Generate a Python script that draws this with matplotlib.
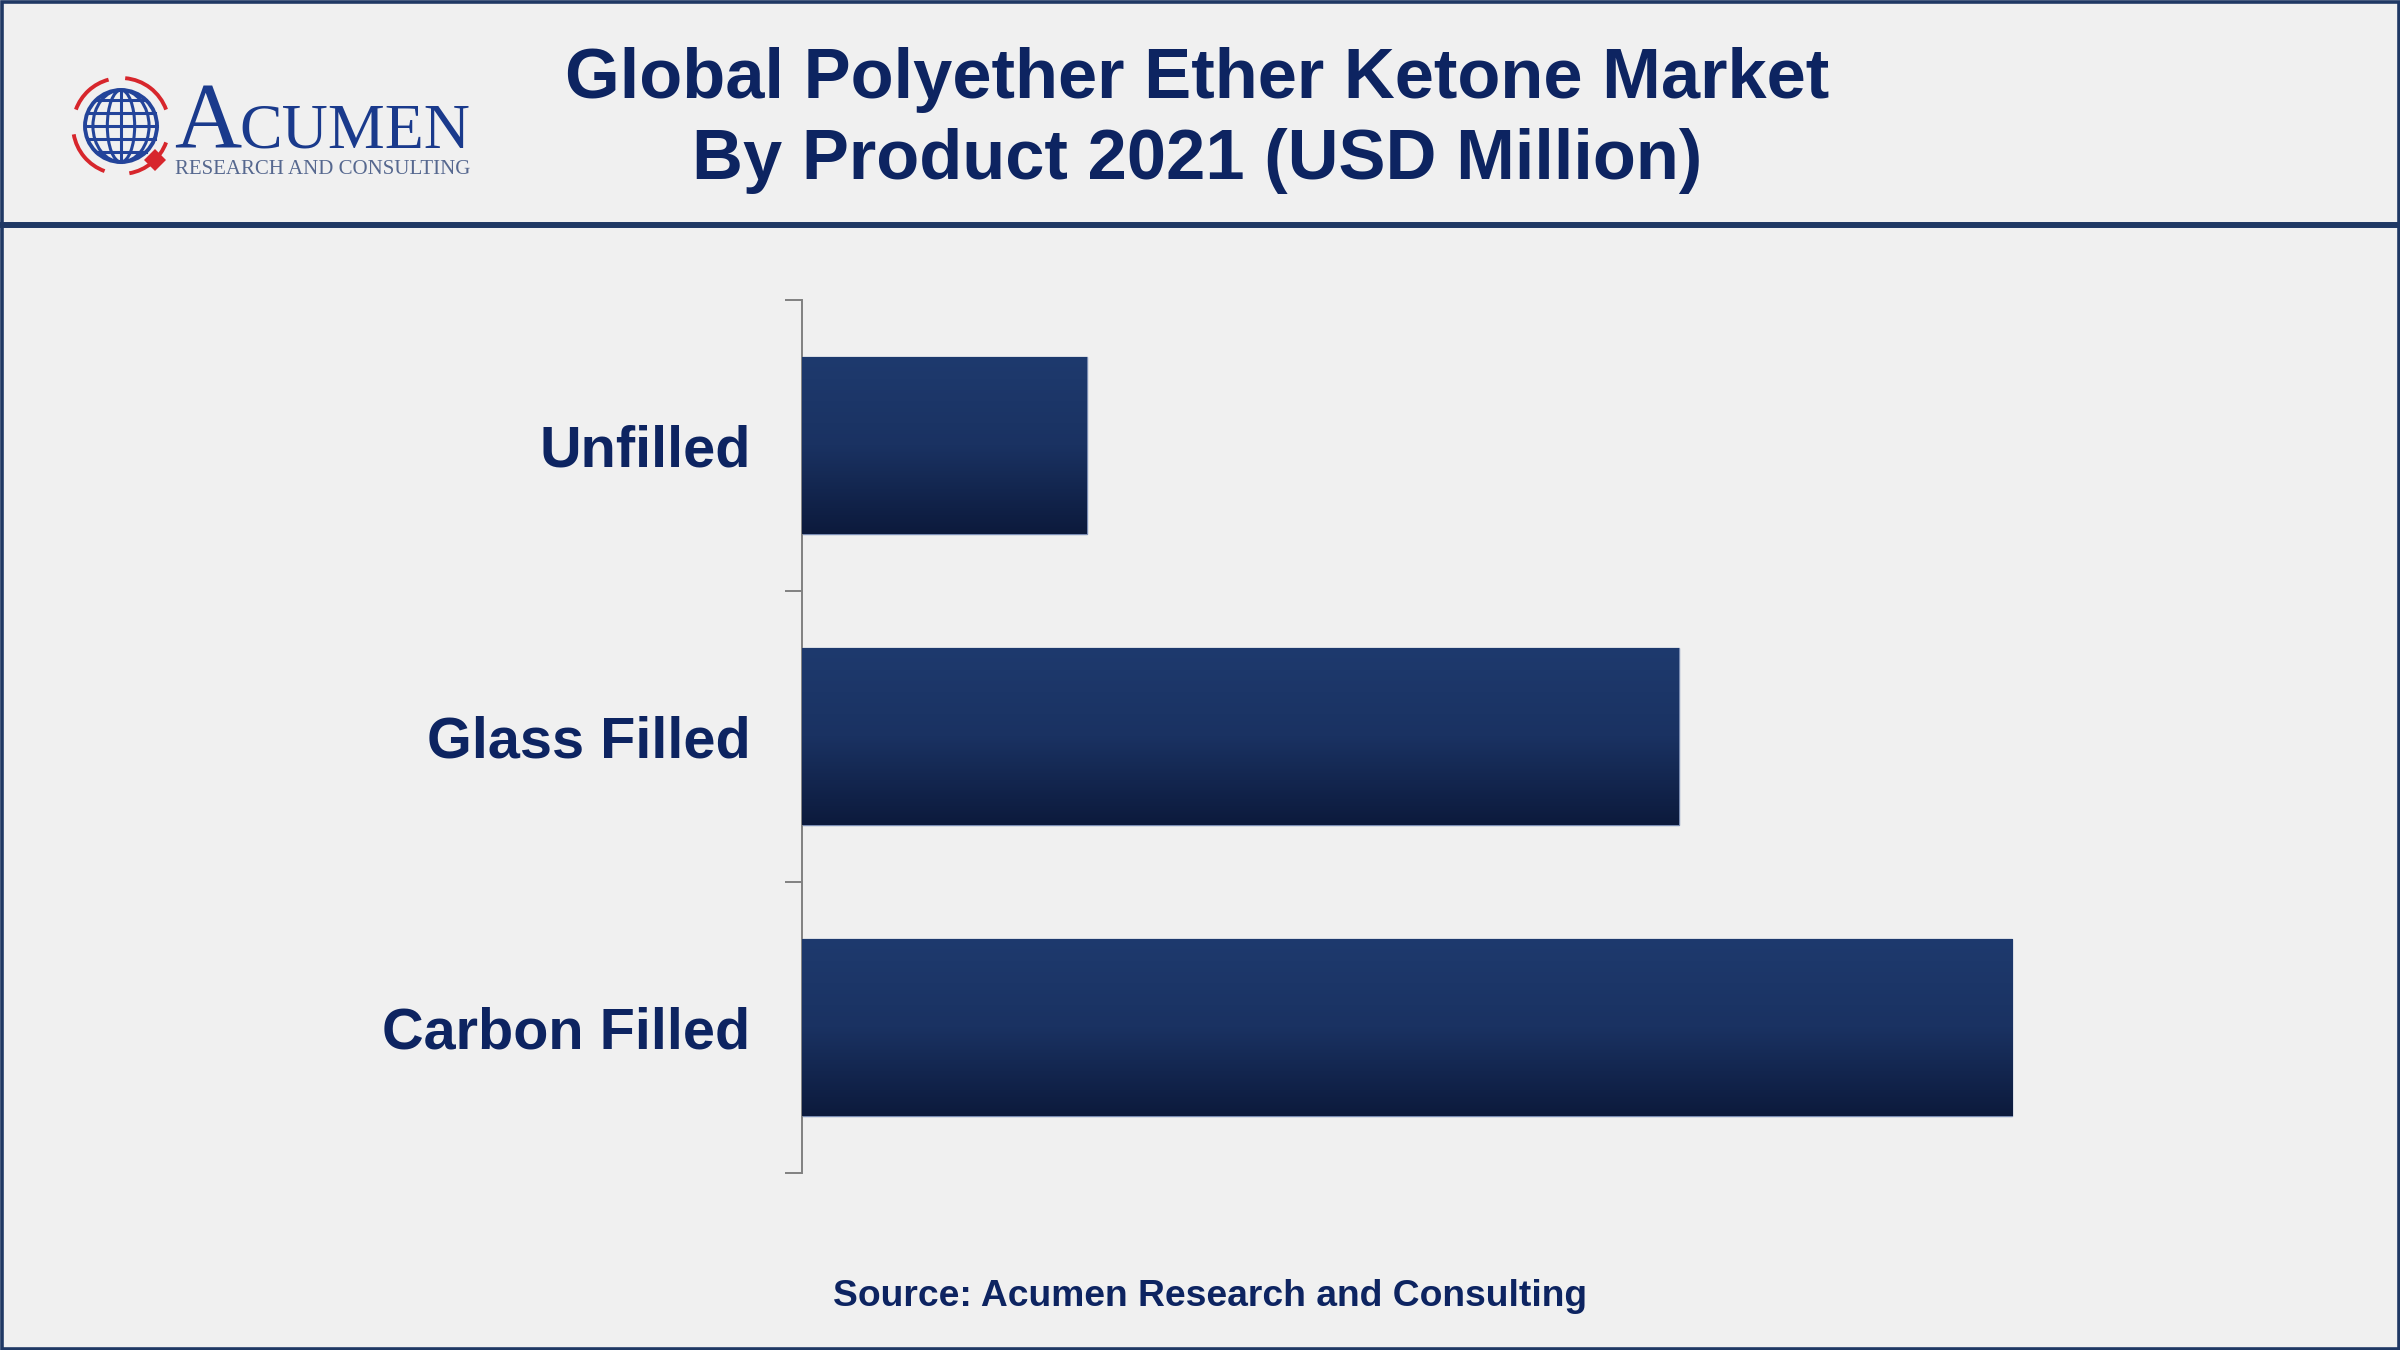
import numpy as np
import matplotlib.pyplot as plt
from matplotlib.patches import Circle, Ellipse, Arc, Rectangle, Polygon
from matplotlib.colors import LinearSegmentedColormap

# data (USD million)
products = ['Unfilled', 'Glass Filled', 'Carbon Filled']
values = [165.4, 509.0, 702.3]

title_lines = ['Global Polyether Ether Ketone Market', 'By Product 2021 (USD Million)']
source = 'Source: Acumen Research and Consulting'

navy = '#0d2461'
frame = '#1f3864'
bg = '#f0f0f0'

plt.rcParams['font.family'] = ['Liberation Sans', 'DejaVu Sans']

fig = plt.figure(figsize=(24, 13.5), dpi=100)
fig.patch.set_facecolor(bg)

# overlay in pixel coords for header / frame / logo
ov = fig.add_axes([0, 0, 1, 1])
ov.set_xlim(0, 2400)
ov.set_ylim(1350, 0)
ov.axis('off')
ov.patch.set_alpha(0)

ov.add_patch(Rectangle((1.5, 1.5), 2397, 1347, fill=False, edgecolor=frame, lw=2.6))
ov.plot([0, 2400], [225, 225], color=frame, lw=4.3, solid_capstyle='butt')

for line, yb in zip(title_lines, [98, 179]):
    ov.text(1197, yb, line, ha='center', va='baseline', fontsize=50.8,
            fontweight='bold', color=navy)
ov.text(1210, 1296, source, ha='center', va='center', fontsize=26.8,
        fontweight='bold', color=navy)

# logo
blue = '#23449a'
red = '#d7262c'
cx, cy, r = 121, 126, 36
ov.add_patch(Circle((cx, cy), r, fill=False, ec=blue, lw=2.8))
for w in [0.38, 0.78]:
    ov.add_patch(Ellipse((cx, cy), 2 * r * w, 2 * r, fill=False, ec=blue, lw=2.2))
ov.plot([cx, cx], [cy - r, cy + r], color=blue, lw=2.2)
for f in [-0.72, -0.36, 0, 0.36, 0.72]:
    hw = r * np.sqrt(1 - f ** 2)
    ov.plot([cx - hw, cx + hw], [cy + f * r, cy + f * r], color=blue, lw=2.2)
for a1, a2 in [(200, 255), (275, 340), (20, 80), (110, 170)]:
    ov.add_patch(Arc((cx, cy), 96, 96, theta1=a1, theta2=a2, color=red, lw=2.8))
ov.add_patch(Polygon([(155, 149), (166, 160), (155, 171), (144, 160)], closed=True,
                     fc=red, ec='none'))
ov.text(174, 148, 'A', fontsize=67, family='Liberation Serif', color='#1a3a8c',
        ha='left', va='baseline')
ov.text(239, 148, 'CUMEN', fontsize=46, family='Liberation Serif', color='#1a3a8c',
        ha='left', va='baseline')
ov.text(175, 174, 'RESEARCH AND CONSULTING', fontsize=15, family='Liberation Serif',
        color='#56688f', ha='left', va='baseline')

# chart
ax = fig.add_axes([802 / 2400, 1 - 1173 / 1350, 1398 / 2400, 873 / 1350])
ax.patch.set_alpha(0)
y = np.arange(len(products))
bars = ax.barh(y, values, height=0.61, color='#142a58', edgecolor='#7a8cb2', lw=1.0, zorder=2)

cmap = LinearSegmentedColormap.from_list('bar', ['#1e3a6e', '#1a3262', '#0c1a3c'])
grad = np.linspace(0, 1, 256).reshape(-1, 1)
for b in bars:
    x0, y0 = b.get_x(), b.get_y()
    w, h = b.get_width(), b.get_height()
    im = ax.imshow(grad, extent=(x0, x0 + w, y0 + h, y0), origin='upper',
                   aspect='auto', cmap=cmap, zorder=3)
    im.set_clip_path(b)

ax.set_xlim(0, 811.4)
ax.set_ylim(2.5, -0.5)
ax.set_yticks(y)
ax.set_yticklabels(products, fontsize=41.5, fontweight='bold', color=navy)
ax.tick_params(axis='y', which='major', length=0, pad=37)
ax.set_yticks([-0.5, 0.5, 1.5, 2.5], minor=True)
ax.tick_params(axis='y', which='minor', length=12, width=1.4, color='#808080')
ax.set_xticks([])
for s in ['top', 'right', 'bottom']:
    ax.spines[s].set_visible(False)
ax.spines['left'].set_color('#808080')
ax.spines['left'].set_linewidth(1.4)

fig.savefig('out.png', dpi=100, facecolor=bg)
